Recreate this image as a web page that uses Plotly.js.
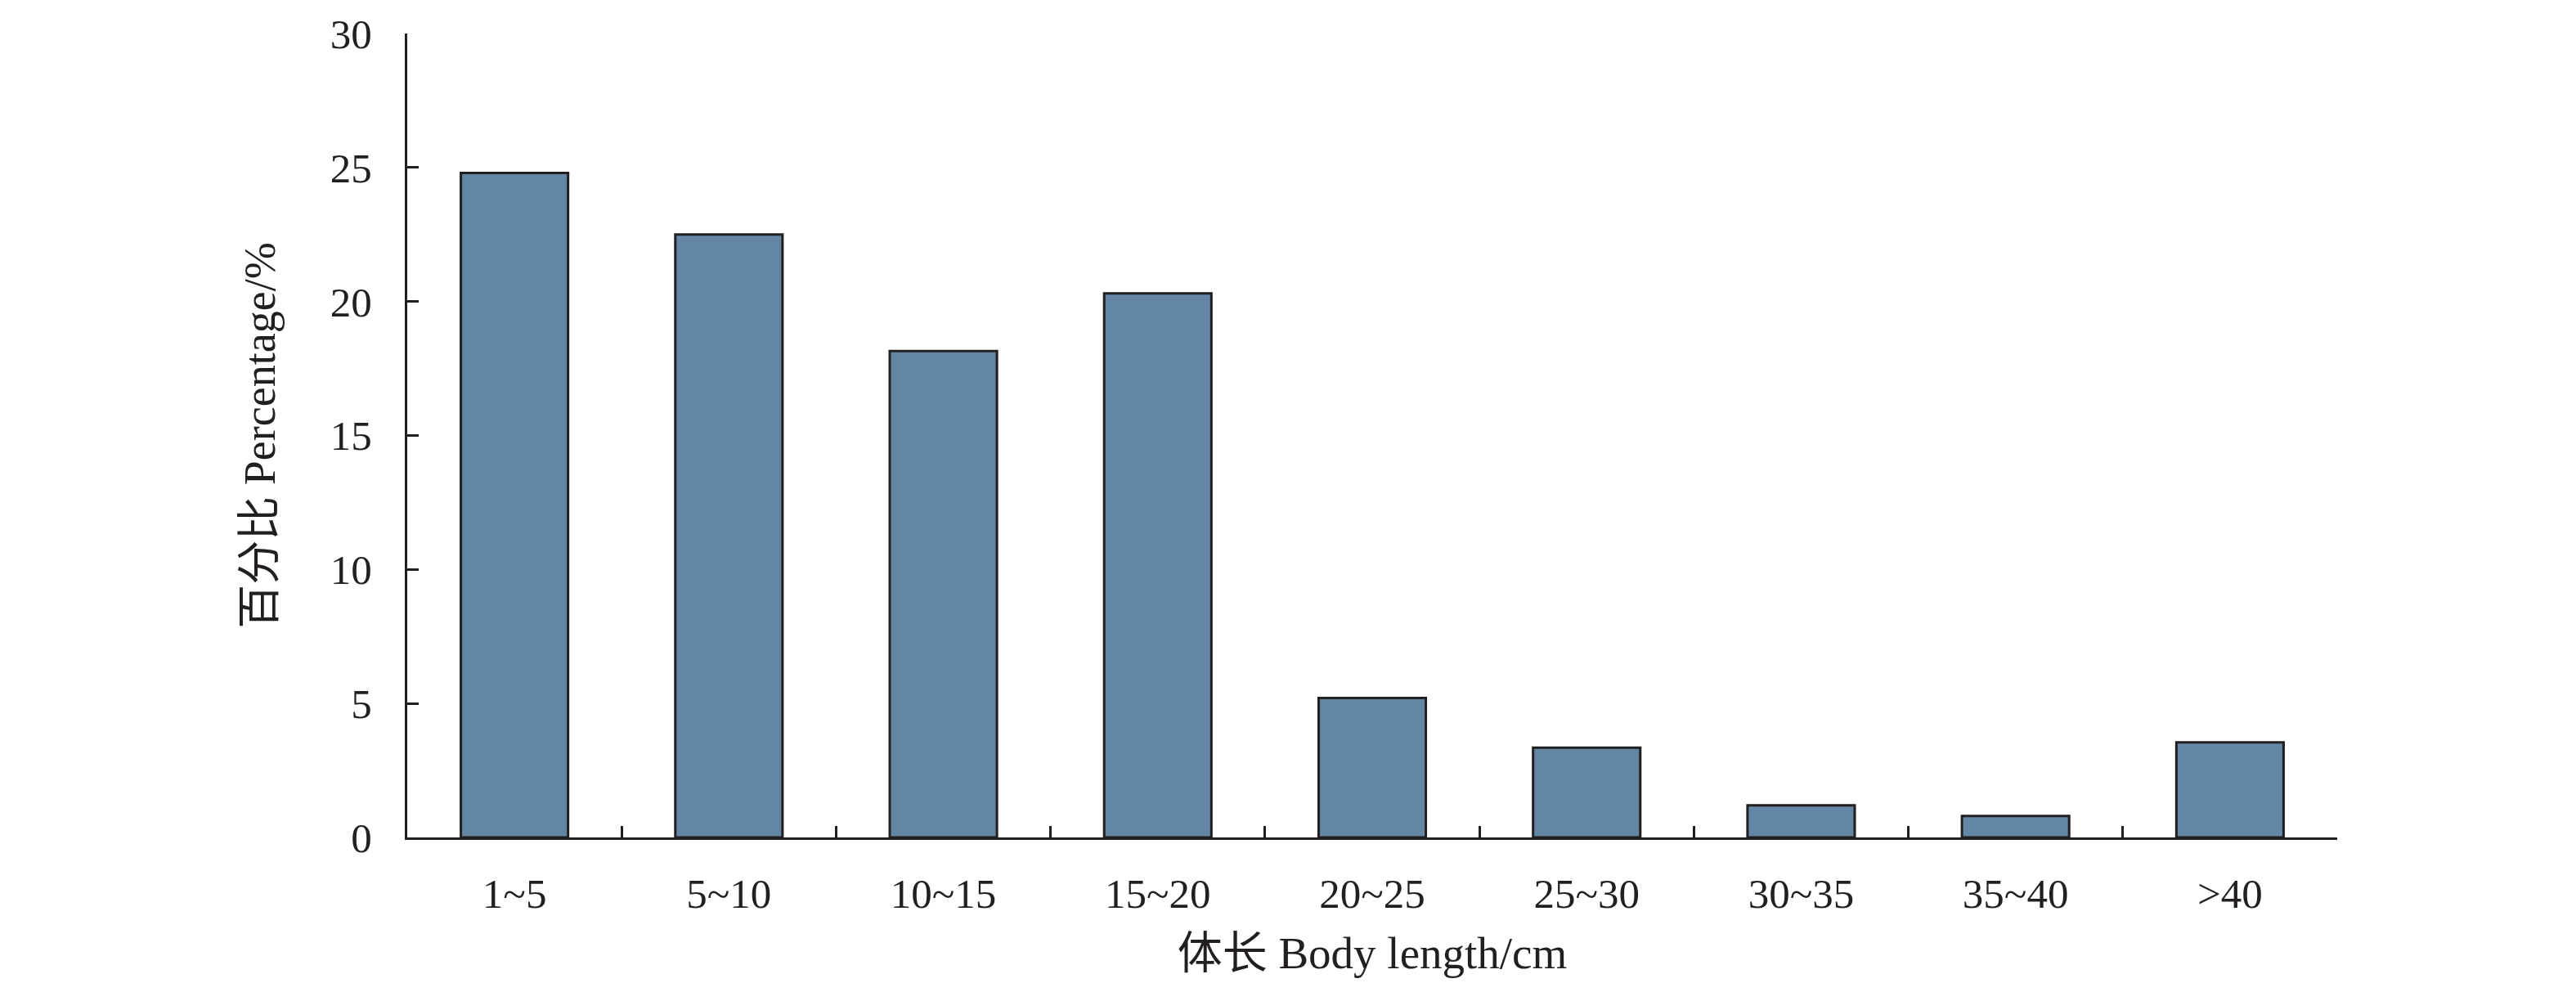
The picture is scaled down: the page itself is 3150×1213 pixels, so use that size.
<!DOCTYPE html>
<html>
<head>
<meta charset="utf-8">
<script src="https://cdn.plot.ly/plotly-3.0.1.min.js"></script>
<style>html,body{margin:0;padding:0;background:#fff;}#chart{width:3150px;height:1213px;}</style>
</head>
<body>
<div id="chart"></div>
<script>
const categories = ['1~5', '5~10', '10~15', '15~20', '20~25', '25~30', '30~35', '35~40', '>40'];
const percentages = [24.8, 22.5, 18.15, 20.3, 5.2, 3.35, 1.2, 0.8, 3.55];
const yTickValues = [0, 5, 10, 15, 20, 25, 30];
const xTitle = '体长 Body length/cm';
const yTitle = '百分比 Percentage/%';

const fontFamily = '"Liberation Serif", "Times New Roman", "Noto Sans CJK SC", serif';
const ink = '#231f20';

const trace = {
  type: 'bar',
  x: categories,
  y: percentages,
  marker: { color: '#6286a3', line: { color: ink, width: 3 } },
  hoverinfo: 'x+y'
};

const layout = {
  width: 3150,
  height: 1213,
  paper_bgcolor: '#ffffff',
  plot_bgcolor: '#ffffff',
  showlegend: false,
  bargap: 0.5,
  margin: { l: 498, r: 292, t: 41, b: 189, pad: 0 },
  font: { family: fontFamily, size: 50, color: ink },
  xaxis: {
    type: 'category',
    range: [-0.5, 8.5],
    showline: true,
    linecolor: ink,
    linewidth: 3,
    ticks: 'inside',
    tickson: 'boundaries',
    ticklen: 14,
    tickwidth: 3,
    tickcolor: ink,
    showgrid: false,
    zeroline: false,
    ticklabelstandoff: 22,
    tickfont: { family: fontFamily, size: 51, color: ink },
    title: { text: xTitle, standoff: 26, font: { family: fontFamily, size: 55, color: ink } },
    automargin: false,
    fixedrange: true
  },
  yaxis: {
    range: [0, 30],
    tickvals: yTickValues,
    ticktext: yTickValues.map(String),
    showline: true,
    linecolor: ink,
    linewidth: 3,
    ticks: 'inside',
    ticklen: 14,
    tickwidth: 3,
    tickcolor: ink,
    showgrid: false,
    zeroline: false,
    ticklabelstandoff: 30,
    tickfont: { family: fontFamily, size: 51, color: ink },
    title: { text: yTitle, standoff: 50, font: { family: fontFamily, size: 54, color: ink } },
    automargin: false,
    fixedrange: true
  }
};

Plotly.newPlot('chart', [trace], layout, { displayModeBar: false, staticPlot: true });
</script>
</body>
</html>
